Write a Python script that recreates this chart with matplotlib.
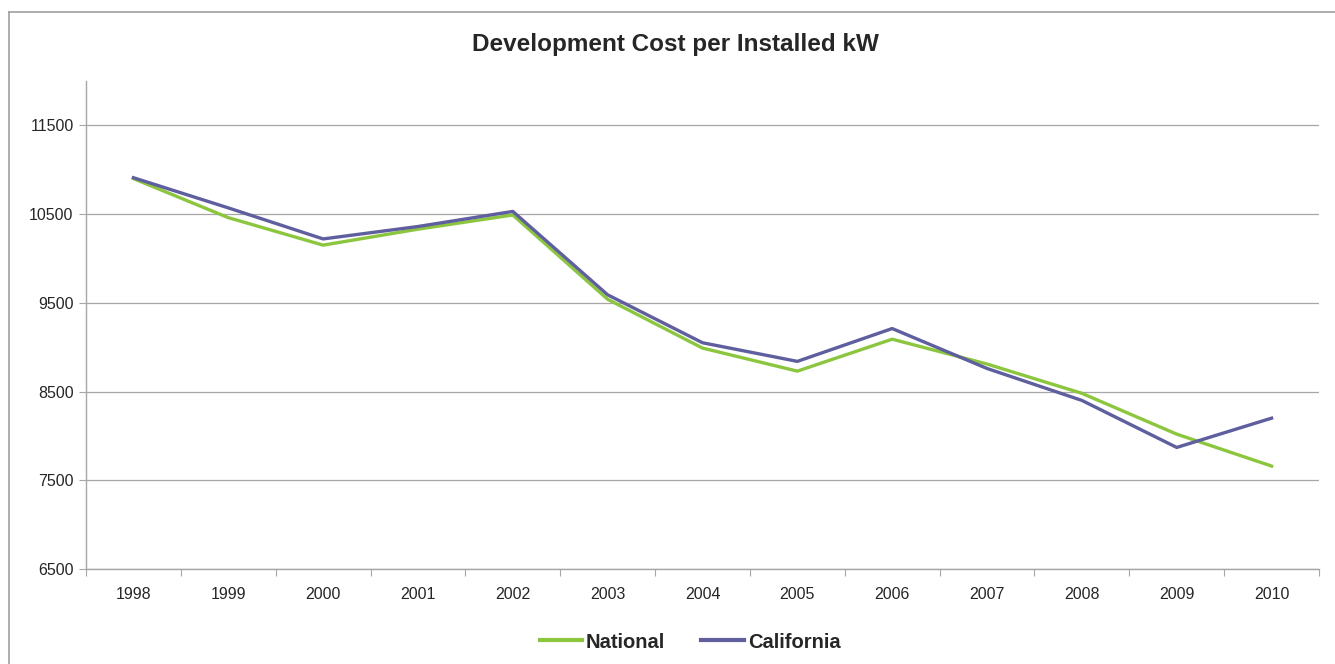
import matplotlib
matplotlib.use('Agg')
import matplotlib.pyplot as plt
from matplotlib.lines import Line2D

# ── DATA ──────────────────────────────────────────────────────────────────────
years = ['1998', '1999', '2000', '2001', '2002', '2003', '2004',
         '2005', '2006', '2007', '2008', '2009', '2010']
national = [10900, 10460, 10150, 10330, 10490, 9540, 8990,
            8730, 9090, 8810, 8480, 8020, 7660]
california = [10910, 10570, 10220, 10360, 10530, 9590, 9050,
              8840, 9210, 8760, 8400, 7870, 8200]
y_ticks = [6500, 7500, 8500, 9500, 10500, 11500]

GREEN = '#8CC63F'
PURPLE = '#5F5E9E'
GRID = '#A6A6A6'

plt.rcParams['font.family'] = ['Liberation Sans', 'DejaVu Sans']

fig = plt.figure(figsize=(13.35, 6.64), dpi=100)
ax = fig.add_axes([86 / 1335, 1 - 569 / 664, (1319 - 86) / 1335, (569 - 81) / 664])

# outer chart border (left and top edges visible)
fig.add_artist(Line2D([9 / 1335, 9 / 1335], [0, 1 - 12 / 664], transform=fig.transFigure,
                      color='#A0A0A0', lw=1.2))
fig.add_artist(Line2D([9 / 1335, 1], [1 - 12 / 664, 1 - 12 / 664], transform=fig.transFigure,
                      color='#A0A0A0', lw=1.2))

x = list(range(len(years)))
ax.plot(x, national, color=GREEN, lw=2.4, label='National')
ax.plot(x, california, color=PURPLE, lw=2.4, label='California')

ax.set_ylim(6500, 12000)
ax.set_xlim(-0.5, len(years) - 0.5)
ax.set_yticks(y_ticks)
ax.set_yticklabels([str(v) for v in y_ticks], fontsize=11.5, color='#262626')
ax.yaxis.grid(True, color=GRID, lw=0.9)
ax.set_axisbelow(True)

# category ticks between years, labels centred on years
ax.set_xticks([i - 0.5 for i in range(len(years) + 1)])
ax.set_xticklabels([])
ax.set_xticks(x, minor=True)
ax.set_xticklabels(years, minor=True, fontsize=11.5, color='#262626')
ax.tick_params(axis='x', which='major', length=5, color=GRID, direction='out')
ax.tick_params(axis='x', which='minor', length=0, pad=13)
ax.tick_params(axis='y', length=5, color=GRID, direction='out', pad=4)

for side in ['top', 'right']:
    ax.spines[side].set_visible(False)
for side in ['left', 'bottom']:
    ax.spines[side].set_color(GRID)
    ax.spines[side].set_linewidth(1.0)

fig.text(675 / 1335, 1 - 44 / 664, 'Development Cost per Installed kW', ha='center', va='center',
         fontsize=17.5, fontweight='bold', color='#262626')

leg = fig.legend(loc='center', bbox_to_anchor=(690 / 1335, 1 - 642 / 664), ncol=2,
                 frameon=False, handlelength=2.1, handletextpad=0.2, columnspacing=1.8,
                 prop={'size': 14.5, 'weight': 'bold'})
for t in leg.get_texts():
    t.set_color('#262626')
for h in leg.legend_handles:
    h.set_linewidth(3.0)

fig.savefig('out.png', dpi=100)
